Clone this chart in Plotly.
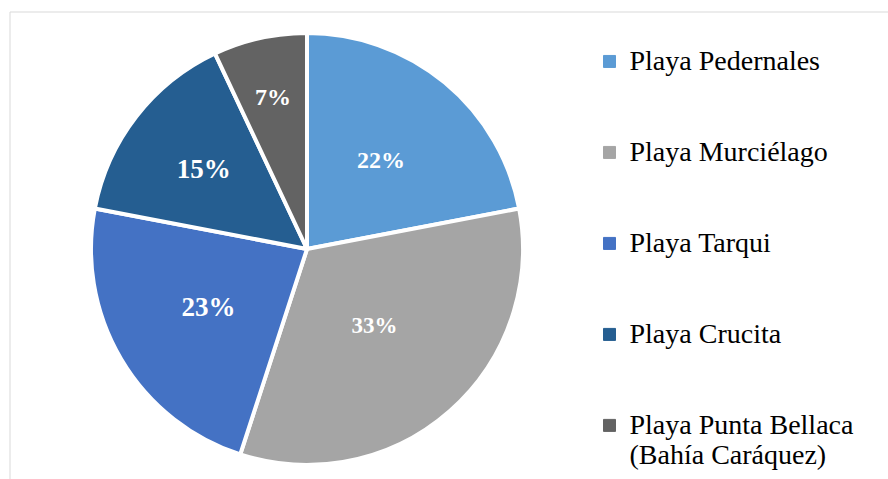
import plotly.graph_objects as go

# Share of visitors by beach (percent)
beaches = [
    "Playa Pedernales",
    "Playa Murciélago",
    "Playa Tarqui",
    "Playa Crucita",
    "Playa Punta Bellaca<br>(Bahía Caráquez)",
]
shares = [22, 33, 23, 15, 7]
colors = ["#5B9BD5", "#A5A5A5", "#4472C4", "#255E91", "#636363"]
label_sizes = [24, 23, 27, 27, 24]

W, H = 888, 479
SERIF = "Liberation Serif"
LEGEND_TEXT_PX = 28

# pie geometry in pixels (paper coordinates with zero margins)
CX, CY, R = 307, 249, 216
LABEL_RING = 0.88  # labels sit on a slightly smaller, transparent copy of the pie


def legend_label(name, pad_lines):
    # each visible line gets the larger legend size; blank lines space the entries out
    lines = [f'<span style="font-size:{LEGEND_TEXT_PX}px">{part}</span>' for part in name.split("<br>")]
    lines += [" "] * pad_lines
    return "<br>".join(lines)


def domain(radius):
    return dict(
        x=[(CX - radius) / W, (CX + radius) / W],
        y=[(H - CY - radius) / H, (H - CY + radius) / H],
    )


display_labels = [legend_label(b, 0 if "<br>" in b else 2) for b in beaches]
common = dict(labels=display_labels, values=shares, sort=False,
              direction="clockwise", rotation=0, hoverinfo="skip")

fig = go.Figure()

# legend carrier: same slices without the white separators (hidden under the main pie)
fig.add_trace(go.Pie(
    **common,
    marker=dict(colors=colors, line=dict(color=colors, width=1)),
    textinfo="none",
    domain=domain(R - 3),
    showlegend=True,
))

# main pie with white gaps between slices
fig.add_trace(go.Pie(
    **common,
    marker=dict(colors=colors, line=dict(color="white", width=4)),
    textinfo="none",
    domain=domain(R),
    showlegend=False,
))

# percentage labels
fig.add_trace(go.Pie(
    **common,
    marker=dict(colors=["rgba(0,0,0,0)"] * len(shares), line=dict(width=0)),
    texttemplate="%{percent:.0%}",
    textposition="inside",
    insidetextorientation="horizontal",
    textfont=dict(family=SERIF, color="white", size=label_sizes, weight="bold"),
    domain=domain(R * LABEL_RING),
    showlegend=False,
))

fig.add_shape(
    type="rect",
    xref="paper", yref="paper",
    x0=10 / W, x1=1.05, y0=-0.05, y1=1 - 12 / H,
    line=dict(color="#D9D9D9", width=1),
    fillcolor="rgba(0,0,0,0)",
    layer="below",
)

fig.update_layout(
    width=W,
    height=H,
    margin=dict(l=0, r=0, t=0, b=0),
    font=dict(family=SERIF, color="black"),
    paper_bgcolor="white",
    plot_bgcolor="white",
    showlegend=True,
    legend=dict(
        x=589.5 / W,
        xanchor="left",
        y=1 - 40.3 / H,
        yanchor="top",
        valign="top",
        font=dict(family=SERIF, size=22.56, color="black"),
        bgcolor="rgba(0,0,0,0)",
    ),
)

fig.write_html("out.html")
